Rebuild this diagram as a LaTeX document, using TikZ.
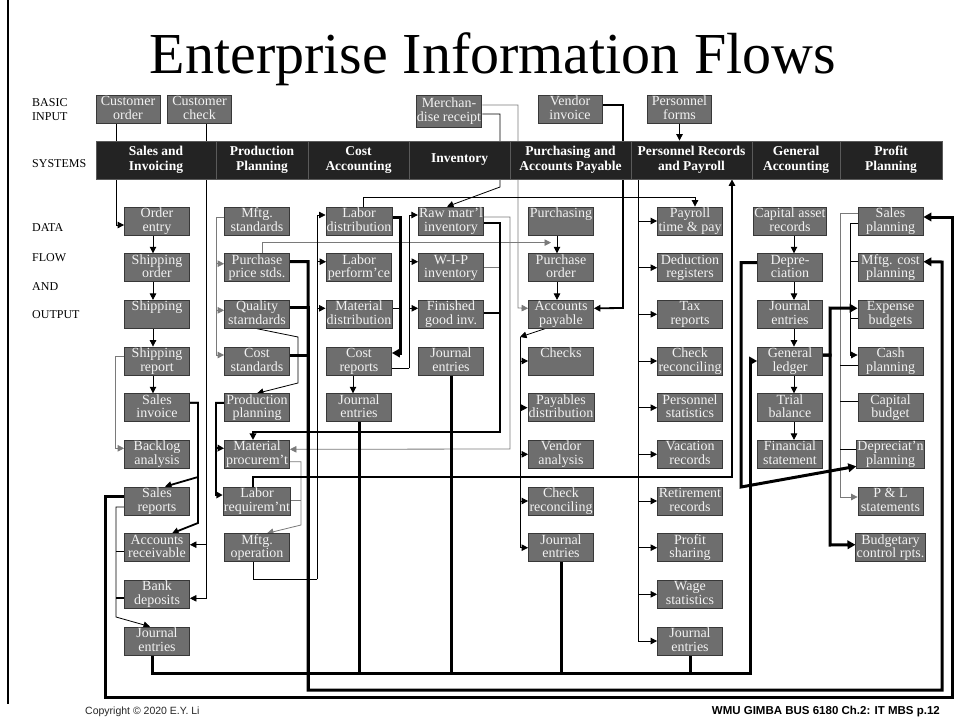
\documentclass[tikz,border=0pt]{standalone}
\usepackage{fontspec}
\setmainfont{Liberation Serif}
\setsansfont{Liberation Sans}
\usetikzlibrary{arrows.meta}
\definecolor{boxfill}{HTML}{6E6E6E}
\definecolor{boxline}{HTML}{383838}
\definecolor{boxtext}{HTML}{F2F2F2}
\definecolor{sysfill}{HTML}{232323}
\definecolor{sysline}{HTML}{5A5A5A}
\definecolor{grayline}{HTML}{7A7A7A}
\pgfdeclarelayer{back}
\pgfdeclarelayer{bg}
\pgfsetlayers{back,bg,main}
\tikzset{
 box/.style={draw=boxline, line width=0.8pt, fill=boxfill, text=boxtext, minimum width=65pt, minimum height=28pt, inner xsep=0.8pt, inner ysep=0pt, text height=23.5pt, text depth=3.5pt, align=center, font=\fontsize{14}{13.6}\selectfont},
 inbox/.style={box, minimum width=64pt},
 syscell/.style={draw=sysline, line width=0.8pt, fill=sysfill, text=white, minimum height=38pt, inner sep=0pt, align=center, font=\bfseries\fontsize{13.5}{15}\selectfont},
 ln/.style={line width=0.8pt, black},
 gln/.style={line width=0.8pt, grayline},
 arr/.style={-{Triangle[length=6.5pt,width=6.5pt]}},
 harr/.style={-{Triangle[length=8pt,width=8.5pt]}},
 med/.style={line width=1.8pt, black},
 heavy/.style={line width=3pt, black},
 sidelab/.style={font=\fontsize{12}{14}\selectfont, anchor=west, align=left, inner sep=0pt},
}
\def\yA{221}\def\yB{267.7}\def\yC{314.3}\def\yD{361}\def\yE{407.7}
\def\yF{454.3}\def\yG{501}\def\yH{547.7}\def\yI{594.3}\def\yJ{641}
\def\xS{157}\def\xP{257}\def\xC{359}\def\xI{451}\def\xU{561}\def\xR{690}\def\xG{790}\def\xF{890.5}
\begin{document}
\begin{tikzpicture}[x=1pt,y=-1pt]
\useasboundingbox (0,0) rectangle (956,724);
\begin{pgfonlayer}{back}
\fill[white] (0,0) rectangle (956,724);
\end{pgfonlayer}
\draw[line width=2.5pt] (8,0) -- (8,704);

% title and side labels
\node[font=\fontsize{58}{62}\selectfont, anchor=base, inner sep=0pt] (title) at (493,73) {Enterprise Information Flows};
\node[sidelab] (lbasic) at (32,110) {BASIC\\INPUT};
\node[sidelab] (lsys) at (32,164) {SYSTEMS};
\node[sidelab] (ldata) at (32,228) {DATA};
\node[sidelab] (lflow) at (32,258) {FLOW};
\node[sidelab] (land) at (32,287) {AND};
\node[sidelab] (lout) at (32,315) {OUTPUT};
\node[font=\sffamily\fontsize{10.5}{12}\selectfont, anchor=base west, text=black!85, inner sep=0pt] (copy) at (85,714) {Copyright © 2020 E.Y. Li};
\node[font=\sffamily\bfseries\fontsize{11.5}{12}\selectfont, anchor=base east, inner sep=0pt] (foot) at (940,714) {WMU GIMBA BUS 6180 Ch.2: IT MBS p.12};

% basic inputs
\node[inbox] (co) at (128,109) {Customer\\order};
\node[inbox] (cc) at (199.5,109) {Customer\\check};
\node[inbox, minimum height=32pt] (mr) at (449,111) {Merchan-\\dise receipt};
\node[inbox] (vi) at (570,109) {Vendor\\invoice};
\node[inbox] (pf) at (679.5,109) {Personnel\\forms};

% systems bar
\node[syscell, minimum width=120pt] (ssal) at (156,160) {Sales and\\Invoicing};
\node[syscell, minimum width=92pt] (sprd) at (262,160) {Production\\Planning};
\node[syscell, minimum width=101pt] (scst) at (358.5,160) {Cost\\Accounting};
\node[syscell, minimum width=101pt] (sinv) at (459.5,160) {Inventory};
\node[syscell, minimum width=121pt] (spur) at (570.5,160) {Purchasing and\\Accounts Payable};
\node[syscell, minimum width=121pt] (sper) at (691.5,160) {Personnel Records\\and Payroll};
\node[syscell, minimum width=88pt] (sgen) at (796,160) {General\\Accounting};
\node[syscell, minimum width=102pt] (spro) at (891,160) {Profit\\Planning};

% sales and invoicing
\node[box] (oe) at (\xS,\yA) {Order\\entry};
\node[box] (sor) at (\xS,\yB) {Shipping\\order};
\node[box] (sh) at (\xS,\yC) {Shipping\\~};
\node[box] (srp) at (\xS,\yD) {Shipping\\report};
\node[box] (si) at (\xS,\yE) {Sales\\invoice};
\node[box] (ba) at (\xS,\yF) {Backlog\\analysis};
\node[box] (srep) at (\xS,\yG) {Sales\\reports};
\node[box] (ar) at (\xS,\yH) {Accounts\\receivable};
\node[box] (bd) at (\xS,\yI) {Bank\\deposits};
\node[box] (sje) at (\xS,\yJ) {Journal\\entries};
% production planning
\node[box] (ms) at (\xP,\yA) {Mftg.\\standards};
\node[box] (pps) at (\xP,\yB) {Purchase\\price stds.};
\node[box] (qs) at (\xP,\yC) {Quality\\starndards};
\node[box] (cs) at (\xP,\yD) {Cost\\standards};
\node[box] (pp) at (\xP,\yE) {Production\\planning};
\node[box] (mp) at (\xP,\yF) {Material\\procurem’t};
\node[box] (lr) at (\xP,\yG) {Labor\\requirem’nt};
\node[box] (mo) at (\xP,\yH) {Mftg.\\operation};
% cost accounting
\node[box] (ld) at (\xC,\yA) {Labor\\distribution};
\node[box] (lp) at (\xC,\yB) {Labor\\perform’ce};
\node[box] (md) at (\xC,\yC) {Material\\distribution};
\node[box] (cr) at (\xC,\yD) {Cost\\reports};
\node[box] (cje) at (\xC,\yE) {Journal\\entries};
% inventory
\node[box] (raw) at (\xI,\yA) {Raw matr’l\\inventory};
\node[box] (wip) at (\xI,\yB) {W-I-P\\inventory};
\node[box] (fg) at (\xI,\yC) {Finished\\good inv.};
\node[box] (ije) at (\xI,\yD) {Journal\\entries};
% purchasing
\node[box] (pu) at (\xU,\yA) {Purchasing\\~};
\node[box] (po) at (\xU,\yB) {Purchase\\order};
\node[box] (ap) at (\xU,\yC) {Accounts\\payable};
\node[box] (chk) at (\xU,\yD) {Checks\\~};
\node[box] (pd) at (\xU,\yE) {Payables\\distribution};
\node[box] (va) at (\xU,\yF) {Vendor\\analysis};
\node[box] (pcr) at (\xU,\yG) {Check\\reconciling};
\node[box] (pje) at (\xU,\yH) {Journal\\entries};
% personnel
\node[box] (ptp) at (\xR,\yA) {Payroll\\time \& pay};
\node[box] (dr) at (\xR,\yB) {Deduction\\registers};
\node[box] (tr) at (\xR,\yC) {Tax\\reports};
\node[box] (crc) at (\xR,\yD) {Check\\reconciling};
\node[box] (pst) at (\xR,\yE) {Personnel\\statistics};
\node[box] (vr) at (\xR,\yF) {Vacation\\records};
\node[box] (rr) at (\xR,\yG) {Retirement\\records};
\node[box] (ps) at (\xR,\yH) {Profit\\sharing};
\node[box] (ws) at (\xR,\yI) {Wage\\statistics};
\node[box] (perje) at (\xR,\yJ) {Journal\\entries};
% general accounting
\node[box] (car) at (\xG,\yA) {Capital asset\\records};
\node[box] (dep) at (\xG,\yB) {Depre-\\ciation};
\node[box] (gje) at (\xG,\yC) {Journal\\entries};
\node[box] (gl) at (\xG,\yD) {General\\ledger};
\node[box] (tb) at (\xG,\yE) {Trial\\balance};
\node[box] (fs) at (\xG,\yF) {Financial\\statement};
% profit planning
\node[box] (spl) at (\xF,\yA) {Sales\\planning};
\node[box] (mcp) at (\xF,\yB) {Mftg. cost\\planning};
\node[box] (eb) at (\xF,\yC) {Expense\\budgets};
\node[box] (cp) at (\xF,\yD) {Cash\\planning};
\node[box] (cb) at (\xF,\yE) {Capital\\budget};
\node[box] (dpl) at (\xF,\yF) {Depreciat’n\\planning};
\node[box] (pl) at (\xF,\yG) {P \& L\\statements};
\node[box] (bcr) at (\xF,\yH) {Budgetary\\control rpts.};

\begin{pgfonlayer}{bg}
% ---- gray lines first
\draw[gln,arr] ([yshift=6pt]mr.east) -| (518,308) -- ([yshift=6pt]ap.west);
\draw[gln,arr] ([yshift=5pt]srp.west) -- (115,356) |- ([yshift=6pt]ba.west);
\coordinate (msb) at (216,217);
\draw[gln] ([yshift=4pt]ms.west) -- (msb);
\draw[gln,arr] (msb) |- ([yshift=4pt]pps.west);
\draw[gln,arr] (msb) |- ([yshift=4pt]qs.west);
\draw[gln,arr] (msb) |- ([yshift=6pt]cs.west);
\draw[gln,arr] ([xshift=5pt]pps.north) |- ([xshift=-10pt,yshift=10.7pt]po.north);
\draw[gln,arr] ([yshift=-7.5pt]mp.east) -| (301,525) -- ([xshift=10pt]mo.north);
\draw[gln] ([yshift=1pt]lr.east) -- (301,500);
\draw[gln,arr] ([yshift=4pt]raw.east) -| (510,449) -- ([yshift=5pt]mp.east);
\draw[gln] (wip.east) -- (500,267.7);
\draw[gln,arr] ([yshift=8pt]spl.west) -| (840,497) -- ([yshift=4pt]pl.west);

% ---- inputs
\draw[ln,arr] ([xshift=-12pt]co.south) |- ([yshift=-4pt]oe.west);
\draw[ln,arr] ([xshift=6.5pt]cc.south) |- ([yshift=3pt]ar.east);
\draw[ln,arr] ([xshift=6.5pt]cc.south) |- ([yshift=-4pt]bd.east);
\draw[ln,arr] ([yshift=-3pt]mr.east) -| (500,187) -- ([xshift=-4pt]raw.north);
\draw[med,arr] ([yshift=4pt]vi.east) -| (623,308) -- ([yshift=6pt]ap.east);
\draw[ln,arr] (pf.south) -- (pf.south |- sper.north);

% ---- sales
\draw[ln,arr] ([xshift=-4pt]oe.south) -- ([xshift=-4pt]sor.north);
\draw[ln,arr] ([xshift=-4pt]sor.south) -- ([xshift=-4pt]sh.north);
\draw[ln,arr] ([xshift=-4pt]sh.south) -- ([xshift=-4pt]srp.north);
\draw[ln,arr] ([xshift=-4pt]srp.south) -- ([xshift=-4pt]si.north);
\draw[med,arr] ([yshift=5pt]si.east) -| (198,477) -- ([xshift=8pt]srep.north);
\draw[med,arr] ([yshift=5pt]si.east) -| (198,523) -- ([xshift=15pt]ar.north);
\draw[ln,arr] ([yshift=-6pt]srep.west) -| (116,617) -- ([xshift=-7pt]sje.north);
\draw[ln] ([yshift=-4pt]ar.west) -- (116,551.7);
\draw[med] ([yshift=-4pt]bd.west) -- (116,598.3);
\draw[heavy,harr] ([yshift=5pt]srep.west) -| (105,697) -| (952,217) -- ([yshift=4pt]spl.east);

% ---- journal entries bus to general ledger
\coordinate (gbus) at (750,673);
\draw[heavy,harr] ([xshift=-5pt]sje.south) |- (gbus) |- (gl.west);
\foreach \n in {cje,ije,pje,perje} \draw[heavy] (\n.south) -- (\n.south |- gbus);

% ---- production
\draw[heavy,harr] ([yshift=6pt]pps.east) -| (308,690) -| (942,262) -- ([yshift=6pt]mcp.east);
\draw[heavy] ([yshift=7pt]qs.east) -| (308,690);
\draw[heavy] ([yshift=6pt]cs.east) -| (308,690);
\draw[ln,arr] (qs.south) -- (298,337) -- (298,383) -- (pp.north);
\draw[med,arr] ([yshift=5pt]pp.west) -| (216,448) -- ([yshift=6pt]mp.west);
\draw[med,arr] ([yshift=5pt]pp.west) -| (216,495) -- ([yshift=6pt]lr.west);
\coordinate (mob) at (317,579);
\draw[ln] ([xshift=-4pt]mo.south) |- (mob);
\draw[ln,arr] (mob) |- ([yshift=6pt]ld.west);
\draw[ln,arr] (mob) |- ([yshift=6pt]lp.west);
\draw[ln,arr] (mob) |- ([yshift=6pt]md.west);
\draw[line width=1.3pt,arr] ([xshift=-4pt]lr.north) -- (253,477) -| ([xshift=40.5pt]sper.south);

% ---- inventory
\draw[med,arr] ([yshift=-2pt]raw.east) -| (500,432) -| ([xshift=-4pt]mp.north);
\draw[med] ([yshift=1pt]fg.east) -- (500,313.3);

% ---- cost
\draw[heavy,harr] ([yshift=4pt]ld.east) -| (400,353) -- ([yshift=8pt]cr.east);
\draw[ln] ([yshift=6pt]md.east) -- (400,308.3);
\coordinate (crb) at (409,368);
\draw[ln] ([yshift=-7pt]cr.east) -- (crb);
\draw[ln,arr] (crb) |- ([yshift=6pt]raw.west);
\draw[ln,arr] (crb) |- ([yshift=6pt]wip.west);
\draw[ln,arr] (crb) |- ([yshift=6pt]fg.west);
\draw[ln,arr] ([xshift=-6pt]cr.south) -- ([xshift=-6pt]cje.north);
\draw[ln,arr] ([xshift=4pt]ld.north) |- (695,197) -- ([xshift=5pt]ptp.north);

% ---- purchasing
\draw[ln,arr] ([xshift=-4pt]pu.south) -- ([xshift=-4pt]po.north);
\draw[ln,arr] ([xshift=-4pt]po.south) -- ([xshift=-4pt]ap.north);
\coordinate (apb) at (520,337);
\draw[ln,arr] ([xshift=-16pt]ap.south) -- (apb);
\foreach \n in {chk,pd,va,pcr,pje} \draw[ln,arr] (apb) |- (\n.west);

% ---- personnel
\coordinate (pb) at ([xshift=-53.5pt]sper.south);
\foreach \n in {ptp,dr,tr,crc,pst,vr,rr,ps,ws,perje} \draw[ln,arr] (pb) |- (\n.west);

% ---- general accounting
\draw[ln,arr] ([xshift=4pt]car.south) -- ([xshift=4pt]dep.north);
\draw[ln,arr] ([xshift=4pt]dep.south) -- ([xshift=4pt]gje.north);
\draw[ln,arr] ([xshift=4pt]gje.south) -- ([xshift=4pt]gl.north);
\draw[ln,arr] ([xshift=4pt]gl.south) -- ([xshift=4pt]tb.north);
\draw[ln,arr] ([xshift=4pt]tb.south) -- ([xshift=4pt]fs.north);
\draw[heavy,harr] ([yshift=5pt]dep.west) -| (741,487) -- ([yshift=-12pt]dpl.west);
\draw[heavy,harr] ([yshift=6pt]gl.east) -| (830,308) -- ([yshift=6pt]eb.west);
\draw[heavy,harr] ([yshift=6pt]gl.east) -| (830,545) -- ([yshift=3pt]bcr.west);

% ---- profit planning
\draw[ln] ([yshift=-4pt]cp.west) -- (840,365);
\draw[ln] ([yshift=6pt]cb.west) -- (840,401.7);
\draw[ln] ([yshift=5pt]dpl.west) -- (840,449.3);
\draw[ln,arr] ([yshift=-2pt]spl.west) -| (850,355) -- ([yshift=6pt]cp.west);
\draw[ln] ([yshift=6pt]mcp.west) -- (850,261.7);
\draw[ln] ([yshift=-4pt]eb.west) -- (850,318.3);
\end{pgfonlayer}
\end{tikzpicture}
\end{document}
